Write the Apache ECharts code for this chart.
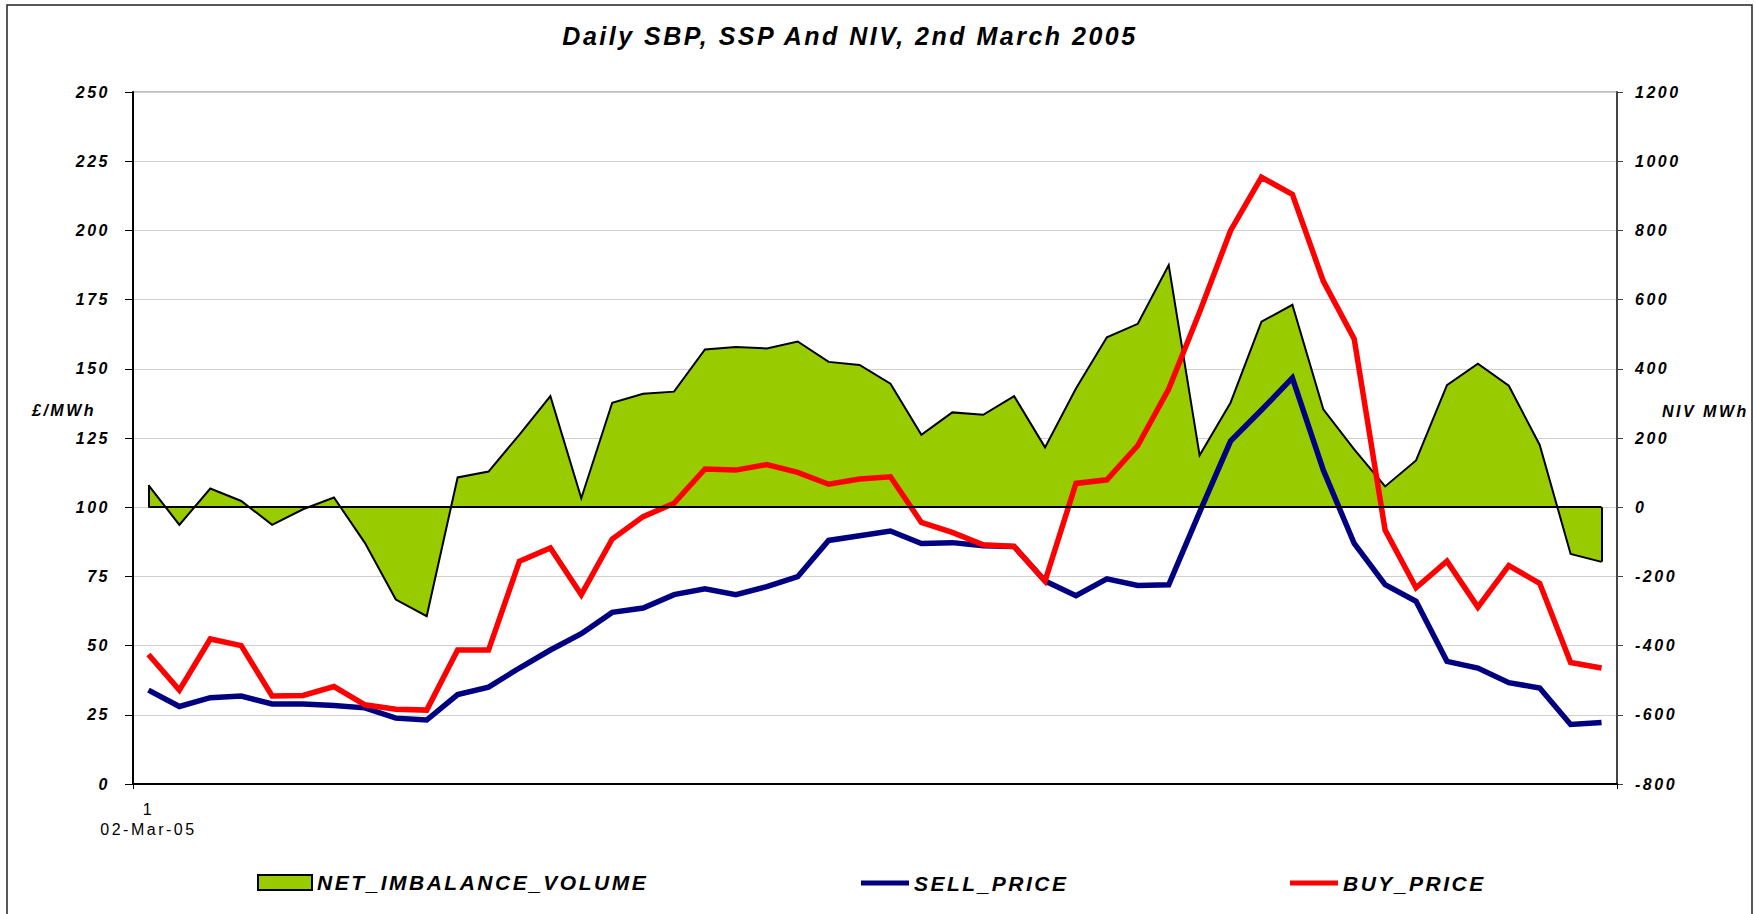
<!DOCTYPE html>
<html>
<head>
<meta charset="utf-8">
<title>Daily SBP, SSP And NIV, 2nd March 2005</title>
<script src="https://cdn.jsdelivr.net/npm/echarts@6/dist/echarts.min.js"></script>
<style>
html, body { margin: 0; padding: 0; background: #fff; }
#chart { width: 1756px; height: 914px; }
/* the old Excel export spaces its letters out */
#chart text { letter-spacing: 2.5px; }
</style>
</head>
<body>
<div id="chart"></div>
<script>
// settlement periods for the day
var periods = ['1', '2', '3', '4', '5', '6', '7', '8', '9', '10', '11', '12',
    '13', '14', '15', '16', '17', '18', '19', '20', '21', '22', '23', '24',
    '25', '26', '27', '28', '29', '30', '31', '32', '33', '34', '35', '36',
    '37', '38', '39', '40', '41', '42', '43', '44', '45', '46', '47', '48'];
var dateLabel = '02-Mar-05';

// NIV MWh (right axis)
var niv = [64, -51, 54, 18, -51, -6, 28, -103, -267, -315,
    86, 103, 210, 321, 26, 302, 328, 334, 456, 463,
    459, 479, 420, 411, 357, 209, 274, 267, 321, 173,
    343, 491, 530, 700, 150, 302, 536, 585, 283, 167,
    60, 135, 353, 415, 351, 180, -135, -158];

// £/MWh (left axis)
var sellPrice = [33.9, 28.0, 31.2, 31.8, 28.9, 28.9, 28.4, 27.5, 23.8, 23.1,
    32.3, 35.0, 41.9, 48.4, 54.3, 62.0, 63.6, 68.4, 70.5, 68.4,
    71.3, 74.9, 88.0, 89.7, 91.4, 86.9, 87.2, 86.1, 85.8, 73.3,
    68.0, 74.1, 71.7, 72.0, 98.2, 123.9, 135.1, 146.7, 113.4, 86.9,
    72.0, 66.0, 44.3, 41.9, 36.6, 34.7, 21.5, 22.2];

var buyPrice = [46.8, 33.9, 52.4, 50.0, 31.8, 32.0, 35.2, 28.6, 27.0, 26.7,
    48.4, 48.4, 80.5, 85.3, 68.4, 88.5, 96.6, 101.4, 113.8, 113.4,
    115.4, 112.6, 108.3, 110.2, 111.0, 94.5, 90.9, 86.4, 85.8, 73.3,
    108.6, 109.9, 122.3, 142.7, 170.5, 199.9, 219.2, 213.0, 181.7, 160.8,
    91.7, 70.9, 80.5, 63.9, 78.9, 72.5, 43.9, 41.9];

var FONT = '"Liberation Sans", Arial, sans-serif';
var last = niv.length - 1;

var chart = echarts.init(document.getElementById('chart'), null, { renderer: 'svg' });

var labelStyle = {
    fontFamily: FONT,
    fontSize: 16,
    fontWeight: 'bold',
    fontStyle: 'italic',
    color: '#000'
};

var legendText = {
    fontFamily: FONT,
    fontSize: 21,
    fontWeight: 'bold',
    fontStyle: 'italic',
    color: '#000'
};

var option = {
    animation: false,
    backgroundColor: '#fff',
    grid: {
        left: 133, right: 139, top: 92, bottom: 130,
        show: true, borderColor: '#808080', borderWidth: 1
    },
    xAxis: {
        type: 'category',
        data: periods,
        boundaryGap: true,
        axisLine: { lineStyle: { color: '#000', width: 2 } },
        axisTick: {
            show: true, length: 5,
            interval: function(i) { return i === 0; },
            lineStyle: { color: '#000' }
        },
        axisLabel: {
            interval: function(i) { return i === 0; },
            formatter: function(v) { return v + '\n' + dateLabel; },
            margin: 15,
            fontFamily: FONT,
            fontSize: 16,
            lineHeight: 20,
            color: '#000'
        },
        splitLine: { show: false }
    },
    yAxis: [{
        type: 'value',
        position: 'left',
        min: 0, max: 250, interval: 25,
        axisLine: { show: true, lineStyle: { color: '#000', width: 2 } },
        axisTick: { show: true, length: 8, lineStyle: { color: '#000' } },
        axisLabel: Object.assign({ margin: 23 }, labelStyle),
        splitLine: { show: true, lineStyle: { color: '#d0d0d0', width: 1 } }
    }, {
        type: 'value',
        position: 'right',
        min: -800, max: 1200, interval: 200,
        axisLine: { show: true, lineStyle: { color: '#444', width: 2 } },
        axisTick: { show: true, length: 6, lineStyle: { color: '#444' } },
        axisLabel: Object.assign({
            margin: 18,
            formatter: function(v) { return String(v); }
        }, labelStyle),
        splitLine: { show: false }
    }],
    legend: [{
        data: [{
            name: 'NET_IMBALANCE_VOLUME', icon: 'rect',
            itemStyle: { color: '#99CC00', borderColor: '#000', borderWidth: 2 }
        }],
        left: 257, top: 872, padding: 0,
        itemWidth: 54, itemHeight: 15,
        selectedMode: false,
        textStyle: legendText
    }, {
        data: [{ name: 'SELL_PRICE', icon: 'rect', itemStyle: { color: '#000080' } }],
        left: 861, top: 872.5, padding: 0,
        itemWidth: 48, itemHeight: 5,
        selectedMode: false,
        textStyle: legendText
    }, {
        data: [{ name: 'BUY_PRICE', icon: 'rect', itemStyle: { color: '#FF0000' } }],
        left: 1290, top: 872.5, padding: 0,
        itemWidth: 48, itemHeight: 5,
        selectedMode: false,
        textStyle: legendText
    }],
    series: [{
        name: 'NET_IMBALANCE_VOLUME',
        type: 'line',
        yAxisIndex: 1,
        data: niv,
        symbol: 'none',
        z: 1,
        itemStyle: { color: '#99CC00' },
        lineStyle: { color: '#000', width: 2, join: 'miter' },
        areaStyle: { color: '#99CC00', opacity: 1 },
        markLine: {
            silent: true,
            symbol: ['none', 'none'],
            label: { show: false },
            lineStyle: { color: '#000', width: 2, type: 'solid' },
            data: [
                [{ coord: [0, 0] }, { coord: [last, 0] }],
                [{ coord: [0, 0] }, { coord: [0, niv[0]] }],
                [{ coord: [last, 0] }, { coord: [last, niv[last]] }]
            ]
        }
    }, {
        name: 'SELL_PRICE',
        type: 'line',
        data: sellPrice,
        symbol: 'none',
        z: 2,
        itemStyle: { color: '#000080' },
        lineStyle: { color: '#000080', width: 5.5, join: 'miter' }
    }, {
        name: 'BUY_PRICE',
        type: 'line',
        data: buyPrice,
        symbol: 'none',
        z: 3,
        itemStyle: { color: '#FF0000' },
        lineStyle: { color: '#FF0000', width: 5.5, join: 'miter' }
    }],
    graphic: [{
        type: 'rect',
        silent: true,
        z: -10,
        shape: { x: 7, y: 5, width: 1745, height: 1000 },
        style: { fill: 'none', stroke: '#222', lineWidth: 1.5 }
    }, {
        type: 'text',
        x: 850, y: 36,
        style: {
            text: 'Daily SBP, SSP And NIV, 2nd March 2005',
            fill: '#000',
            font: 'italic bold 25px ' + FONT,
            align: 'center', verticalAlign: 'middle'
        }
    }, {
        type: 'text',
        x: 32, y: 410,
        style: {
            text: '£/MWh',
            fill: '#000',
            font: 'italic bold 16px ' + FONT,
            align: 'left', verticalAlign: 'middle'
        }
    }, {
        type: 'text',
        x: 1662, y: 411,
        style: {
            text: 'NIV MWh',
            fill: '#000',
            font: 'italic bold 16px ' + FONT,
            align: 'left', verticalAlign: 'middle'
        }
    }]
};

chart.setOption(option);
</script>
</body>
</html>
